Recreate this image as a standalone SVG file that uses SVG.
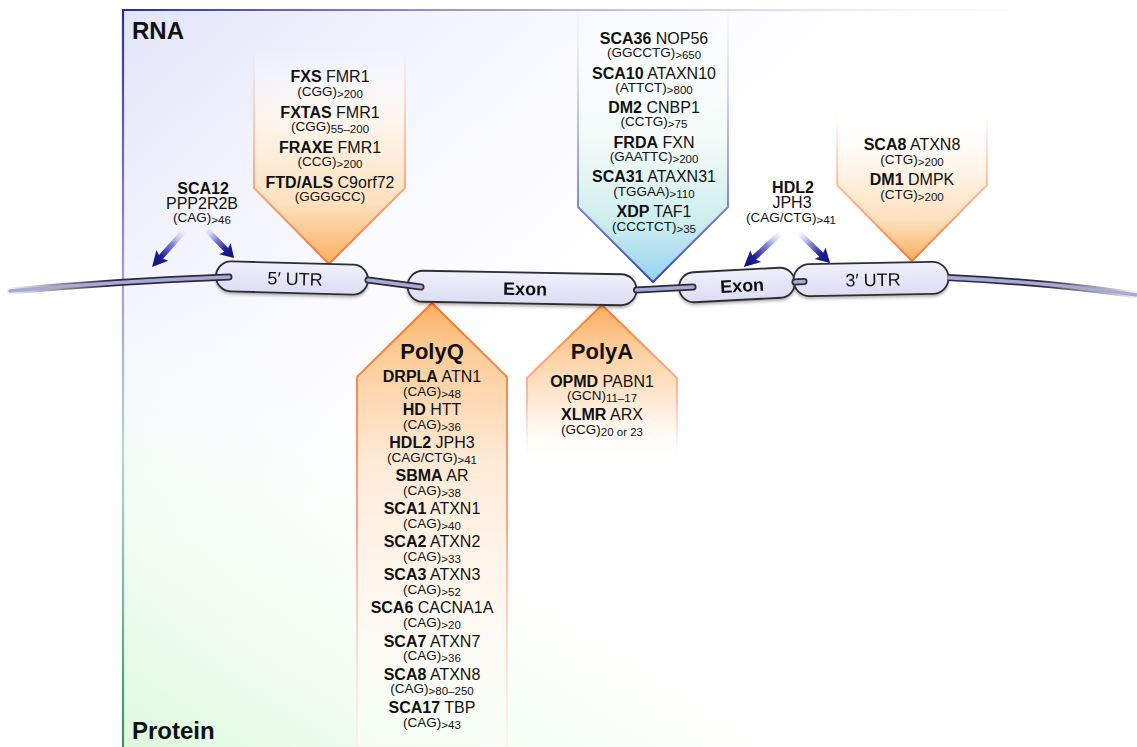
<svg xmlns="http://www.w3.org/2000/svg" xmlns:xlink="http://www.w3.org/1999/xlink" width="1137" height="747" viewBox="0 0 1137 747">
<defs>
<style>
text { font-family: 'Liberation Sans', Arial, Helvetica, sans-serif; fill: #111; text-anchor: middle; }
.m { font-size: 16px; }
.s { font-size: 13.5px; }
.b { font-weight: bold; }
.sub { font-size: 11.5px; }
.h { font-size: 24px; font-weight: bold; text-anchor: start; }
.t { font-size: 22px; font-weight: bold; }
.bx { font-size: 18px; }
.boxr { stroke: #2e2e33; stroke-width: 1.8; fill: url(#boxG); }
.tubeO { fill: none; stroke-width: 7; }
.dk { stroke: #2a2a38; }
.tubeI { fill: none; stroke: #a9a9d8; stroke-width: 3.6; }
</style>
<linearGradient id="bgBlue" x1="0" y1="0" x2="0.55" y2="0.45">
<stop offset="0" stop-color="#e2e4f9"/>
<stop offset="1" stop-color="#ffffff" stop-opacity="0"/>
</linearGradient>
<linearGradient id="bgGreen" x1="0" y1="1" x2="0.35" y2="0.6">
<stop offset="0" stop-color="#dcf9dc"/>
<stop offset="1" stop-color="#ffffff" stop-opacity="0"/>
</linearGradient>
<linearGradient id="leftB" x1="0" y1="10" x2="0" y2="747" gradientUnits="userSpaceOnUse">
<stop offset="0" stop-color="#2b2b9c"/>
<stop offset="0.35" stop-color="#9a9ad6"/>
<stop offset="0.6" stop-color="#b8d8cc"/>
<stop offset="1" stop-color="#3a8f70"/>
</linearGradient>
<linearGradient id="topB" x1="122" y1="0" x2="1030" y2="0" gradientUnits="userSpaceOnUse">
<stop offset="0" stop-color="#2b2b9c"/>
<stop offset="0.5" stop-color="#8a8ad0" stop-opacity="0.6"/>
<stop offset="1" stop-color="#c0c0e8" stop-opacity="0"/>
</linearGradient>
<linearGradient id="orDownF" x1="0" y1="0" x2="0" y2="1">
<stop offset="0" stop-color="#ffffff" stop-opacity="0"/>
<stop offset="0.35" stop-color="#fff4e8" stop-opacity="0.9"/>
<stop offset="0.72" stop-color="#fde0bd"/>
<stop offset="1" stop-color="#fbae60"/>
</linearGradient>
<linearGradient id="orDownS" x1="0" y1="0" x2="0" y2="1">
<stop offset="0" stop-color="#f7a27a" stop-opacity="0"/>
<stop offset="0.35" stop-color="#f7a27a" stop-opacity="0.5"/>
<stop offset="1" stop-color="#f47a35"/>
</linearGradient>
<linearGradient id="orUpF" x1="0" y1="0" x2="0" y2="1">
<stop offset="0" stop-color="#fbae60"/>
<stop offset="0.1" stop-color="#fcca94"/>
<stop offset="0.35" stop-color="#fee9d4"/>
<stop offset="1" stop-color="#ffffff" stop-opacity="0.3"/>
</linearGradient>
<linearGradient id="orUpS" x1="0" y1="0" x2="0" y2="1">
<stop offset="0" stop-color="#f47a35"/>
<stop offset="0.5" stop-color="#f8a88c"/>
<stop offset="1" stop-color="#fcd8d8" stop-opacity="0.2"/>
</linearGradient>
<linearGradient id="paF" x1="0" y1="0" x2="0" y2="1">
<stop offset="0" stop-color="#fbae60"/>
<stop offset="0.3" stop-color="#fcd0a0"/>
<stop offset="0.7" stop-color="#fff0e2"/>
<stop offset="1" stop-color="#ffffff" stop-opacity="0"/>
</linearGradient>
<linearGradient id="paS" x1="0" y1="0" x2="0" y2="1">
<stop offset="0" stop-color="#f47a35"/>
<stop offset="0.6" stop-color="#f8a88c" stop-opacity="0.7"/>
<stop offset="1" stop-color="#fcd8d8" stop-opacity="0"/>
</linearGradient>
<linearGradient id="blF" x1="0" y1="0" x2="0" y2="1">
<stop offset="0" stop-color="#ffffff" stop-opacity="0"/>
<stop offset="0.5" stop-color="#f0f9f6" stop-opacity="0.9"/>
<stop offset="0.78" stop-color="#cdeeed"/>
<stop offset="1" stop-color="#96d2f2"/>
</linearGradient>
<linearGradient id="blS" x1="0" y1="0" x2="0" y2="1">
<stop offset="0" stop-color="#c8c8e0" stop-opacity="0"/>
<stop offset="0.45" stop-color="#9aa0d0" stop-opacity="0.7"/>
<stop offset="1" stop-color="#3848c0"/>
</linearGradient>
<linearGradient id="boxG" x1="0" y1="0" x2="0" y2="1">
<stop offset="0" stop-color="#f0f0fc"/>
<stop offset="1" stop-color="#dcdcf4"/>
</linearGradient>
<linearGradient id="arrG" x1="0" y1="0" x2="1" y2="0">
<stop offset="0" stop-color="#c8c8f0" stop-opacity="0"/>
<stop offset="0.4" stop-color="#6a6ac8" stop-opacity="0.85"/>
<stop offset="0.7" stop-color="#22229a"/>
<stop offset="1" stop-color="#0c0c78"/>
</linearGradient>
<linearGradient id="fadeL" x1="10" y1="0" x2="110" y2="0" gradientUnits="userSpaceOnUse">
<stop offset="0" stop-color="#2a2a38" stop-opacity="0.05"/>
<stop offset="1" stop-color="#2a2a38"/>
</linearGradient>
<linearGradient id="fadeR" x1="1137" y1="0" x2="1040" y2="0" gradientUnits="userSpaceOnUse">
<stop offset="0" stop-color="#2a2a38" stop-opacity="0.05"/>
<stop offset="1" stop-color="#2a2a38"/>
</linearGradient>
<filter id="sh" x="-10%" y="-40%" width="120%" height="190%">
<feDropShadow dx="0" dy="2" stdDeviation="1.8" flood-color="#000" flood-opacity="0.3"/>
</filter>
<path id="arr" d="M0,-2.8 L35,-2.8 L33,-8 L48,0 L33,8 L35,2.8 L0,2.8 Z"/>
</defs>

<g id="panel">
<rect x="122" y="10" width="1015" height="737" fill="url(#bgBlue)"/>
<rect x="122" y="10" width="1015" height="737" fill="url(#bgGreen)"/>
<line x1="122" y1="10" x2="1030" y2="10" stroke="url(#topB)" stroke-width="2"/>
<line x1="123" y1="10" x2="123" y2="747" stroke="url(#leftB)" stroke-width="2.2"/>
<text class="h" x="132" y="39">RNA</text>
<text class="h" x="132" y="739">Protein</text>
</g>

<g id="callout-5utr">
<polygon points="254,50 254,188 329,264 405,188 405,50" fill="url(#orDownF)" stroke="url(#orDownS)" stroke-width="2"/>
<text class="m" x="330" y="82"><tspan class="b">FXS</tspan> FMR1</text>
<text class="s" x="330" y="96">(CGG)<tspan class="sub" dy="2">&gt;200</tspan></text>
<text class="m" x="330" y="118"><tspan class="b">FXTAS</tspan> FMR1</text>
<text class="s" x="330" y="131">(CGG)<tspan class="sub" dy="2">55–200</tspan></text>
<text class="m" x="330" y="153"><tspan class="b">FRAXE</tspan> FMR1</text>
<text class="s" x="330" y="166">(CCG)<tspan class="sub" dy="2">&gt;200</tspan></text>
<text class="m" x="330" y="188"><tspan class="b">FTD/ALS</tspan> C9orf72</text>
<text class="s" x="330" y="201">(GGGGCC)</text>
</g>

<g id="callout-exon-rna">
<polygon points="578,6 578,207 653,282 728,207 728,6" fill="url(#blF)" stroke="url(#blS)" stroke-width="2"/>
<text class="m" x="654" y="44"><tspan class="b">SCA36</tspan> NOP56</text>
<text class="s" x="654" y="57">(GGCCTG)<tspan class="sub" dy="2">&gt;650</tspan></text>
<text class="m" x="654" y="79"><tspan class="b">SCA10</tspan> ATAXN10</text>
<text class="s" x="654" y="92">(ATTCT)<tspan class="sub" dy="2">&gt;800</tspan></text>
<text class="m" x="654" y="113"><tspan class="b">DM2</tspan> CNBP1</text>
<text class="s" x="654" y="126">(CCTG)<tspan class="sub" dy="2">&gt;75</tspan></text>
<text class="m" x="654" y="148"><tspan class="b">FRDA</tspan> FXN</text>
<text class="s" x="654" y="161">(GAATTC)<tspan class="sub" dy="2">&gt;200</tspan></text>
<text class="m" x="654" y="182"><tspan class="b">SCA31</tspan> ATAXN31</text>
<text class="s" x="654" y="196">(TGGAA)<tspan class="sub" dy="2">&gt;110</tspan></text>
<text class="m" x="654" y="217"><tspan class="b">XDP</tspan> TAF1</text>
<text class="s" x="654" y="231">(CCCTCT)<tspan class="sub" dy="2">&gt;35</tspan></text>
</g>

<g id="callout-3utr">
<polygon points="837,115 837,185 912,261 987,185 987,115" fill="url(#orDownF)" stroke="url(#orDownS)" stroke-width="2"/>
<text class="m" x="912" y="150"><tspan class="b">SCA8</tspan> ATXN8</text>
<text class="s" x="912" y="164">(CTG)<tspan class="sub" dy="2">&gt;200</tspan></text>
<text class="m" x="912" y="185"><tspan class="b">DM1</tspan> DMPK</text>
<text class="s" x="912" y="199">(CTG)<tspan class="sub" dy="2">&gt;200</tspan></text>
</g>

<g id="callout-polyq">
<polygon points="357,747 357,377 432,303 507,377 507,747" fill="url(#orUpF)" stroke="url(#orUpS)" stroke-width="2"/>
<text class="t" x="432" y="359">PolyQ</text>
<text class="m" x="432" y="382"><tspan class="b">DRPLA</tspan> ATN1</text>
<text class="s" x="432" y="396">(CAG)<tspan class="sub" dy="2">&gt;48</tspan></text>
<text class="m" x="432" y="415"><tspan class="b">HD</tspan> HTT</text>
<text class="s" x="432" y="429">(CAG)<tspan class="sub" dy="2">&gt;36</tspan></text>
<text class="m" x="432" y="448"><tspan class="b">HDL2</tspan> JPH3</text>
<text class="s" x="432" y="462">(CAG/CTG)<tspan class="sub" dy="2">&gt;41</tspan></text>
<text class="m" x="432" y="481"><tspan class="b">SBMA</tspan> AR</text>
<text class="s" x="432" y="495">(CAG)<tspan class="sub" dy="2">&gt;38</tspan></text>
<text class="m" x="432" y="514"><tspan class="b">SCA1</tspan> ATXN1</text>
<text class="s" x="432" y="528">(CAG)<tspan class="sub" dy="2">&gt;40</tspan></text>
<text class="m" x="432" y="547"><tspan class="b">SCA2</tspan> ATXN2</text>
<text class="s" x="432" y="561">(CAG)<tspan class="sub" dy="2">&gt;33</tspan></text>
<text class="m" x="432" y="580"><tspan class="b">SCA3</tspan> ATXN3</text>
<text class="s" x="432" y="594">(CAG)<tspan class="sub" dy="2">&gt;52</tspan></text>
<text class="m" x="432" y="613"><tspan class="b">SCA6</tspan> CACNA1A</text>
<text class="s" x="432" y="627">(CAG)<tspan class="sub" dy="2">&gt;20</tspan></text>
<text class="m" x="432" y="647"><tspan class="b">SCA7</tspan> ATXN7</text>
<text class="s" x="432" y="660">(CAG)<tspan class="sub" dy="2">&gt;36</tspan></text>
<text class="m" x="432" y="680"><tspan class="b">SCA8</tspan> ATXN8</text>
<text class="s" x="432" y="693">(CAG)<tspan class="sub" dy="2">&gt;80–250</tspan></text>
<text class="m" x="432" y="713"><tspan class="b">SCA17</tspan> TBP</text>
<text class="s" x="432" y="727">(CAG)<tspan class="sub" dy="2">&gt;43</tspan></text>
</g>

<g id="callout-polya">
<polygon points="527,462 527,378 602,305 677,378 677,462" fill="url(#paF)" stroke="url(#paS)" stroke-width="2"/>
<text class="t" x="602" y="359">PolyA</text>
<text class="m" x="602" y="387"><tspan class="b">OPMD</tspan> PABN1</text>
<text class="s" x="602" y="400">(GCN)<tspan class="sub" dy="2">11–17</tspan></text>
<text class="m" x="602" y="420"><tspan class="b">XLMR</tspan> ARX</text>
<text class="s" x="602" y="434">(GCG)<tspan class="sub" dy="2">20 or 23</tspan></text>
</g>

<g id="label-sca12">
<text class="m" x="203" y="194"><tspan class="b">SCA12</tspan></text>
<text class="m" x="202" y="209">PPP2R2B</text>
<text class="s" x="202" y="222">(CAG)<tspan class="sub" dy="2">&gt;46</tspan></text>
</g>

<g id="label-hdl2">
<text class="m" x="793" y="193"><tspan class="b">HDL2</tspan></text>
<text class="m" x="792" y="208">JPH3</text>
<text class="s" x="791" y="222">(CAG/CTG)<tspan class="sub" dy="2">&gt;41</tspan></text>
</g>

<g id="node-5utr" filter="url(#sh)">
<g transform="translate(292,278) rotate(1.5)">
<rect class="boxr" x="-76" y="-15" width="152" height="30" rx="15"/>
<text class="bx" x="3" y="7">5′ UTR</text>
</g>
</g>
<g id="node-exon1" filter="url(#sh)">
<g transform="translate(522,288) rotate(1)">
<rect class="boxr" x="-114.5" y="-15.5" width="229" height="31" rx="15.5"/>
<text class="bx b" x="3" y="7">Exon</text>
</g>
</g>
<g id="node-exon2" filter="url(#sh)">
<g transform="translate(737,285) rotate(-3)">
<rect class="boxr" x="-58" y="-15" width="116" height="30" rx="15"/>
<text class="bx b" x="5" y="7">Exon</text>
</g>
</g>
<g id="node-3utr" filter="url(#sh)">
<g transform="translate(871,279) rotate(-1)">
<rect class="boxr" x="-77.5" y="-16" width="155" height="32" rx="16"/>
<text class="bx" x="2" y="7">3′ UTR</text>
</g>
</g>

<g id="connectors">
<path d="M10,291 Q120,281 229,277" class="tubeO" style="stroke:url(#fadeL)" stroke-linecap="round"/>
<path d="M10,291 Q120,281 229,277" class="tubeI" stroke-linecap="round"/>
<path d="M368,280 L421,287" class="tubeO dk" stroke-linecap="round"/>
<path d="M368,280 L421,287" class="tubeI" stroke-linecap="round"/>
<path d="M636.5,290 L693,287" class="tubeO dk" stroke-linecap="round"/>
<path d="M636.5,290 L693,287" class="tubeI" stroke-linecap="round"/>
<path d="M795,282 L804,281.5" class="tubeO dk" stroke-linecap="round"/>
<path d="M795,282 L804,281.5" class="tubeI" stroke-linecap="round"/>
<path d="M948,277.6 Q1045,282 1137,295" class="tubeO" style="stroke:url(#fadeR)"/>
<path d="M948,277.6 Q1045,282 1137,295" class="tubeI"/>
<use xlink:href="#arr" fill="url(#arrG)" transform="translate(185,230) rotate(131.7) scale(1.03,1)"/>
<use xlink:href="#arr" fill="url(#arrG)" transform="translate(205,228) rotate(46) scale(0.87,1)"/>
<use xlink:href="#arr" fill="url(#arrG)" transform="translate(782,232) rotate(137.4) scale(1.08,1)"/>
<use xlink:href="#arr" fill="url(#arrG)" transform="translate(798,232) rotate(44.1) scale(0.93,1)"/>
</g>
</svg>
